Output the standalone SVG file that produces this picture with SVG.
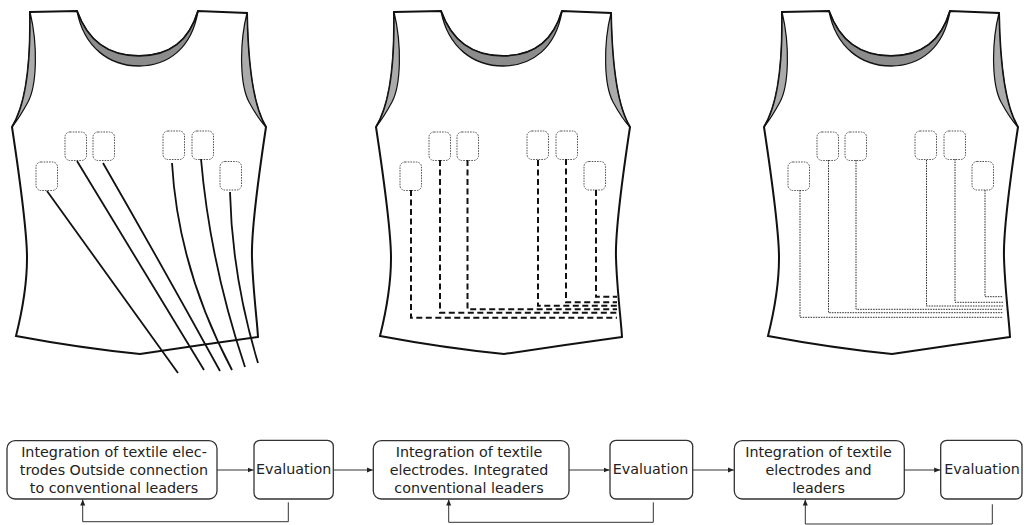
<svg xmlns="http://www.w3.org/2000/svg" xmlns:xlink="http://www.w3.org/1999/xlink" width="1024" height="525" viewBox="0 0 1024 525">
  <style>
    .outline { fill: #ffffff; stroke: #111111; stroke-width: 2; stroke-linejoin: miter; }
    .neckband { fill: #8c8c8c; stroke: #111111; stroke-width: 1.3; }
    .armband { fill: #ababab; stroke: #111111; stroke-width: 1.2; }
    .pad { fill: none; stroke: #555555; stroke-width: 1; stroke-dasharray: 1.6 1.1; }
    .wire-solid { fill: none; stroke: #111111; stroke-width: 1.8; }
    .wire-dash { fill: none; stroke: #111111; stroke-width: 2; stroke-dasharray: 6 3.5; }
    .wire-dot { fill: none; stroke: #333333; stroke-width: 1; stroke-dasharray: 1.6 1; }
    .box { fill: #ffffff; stroke: #333333; stroke-width: 1.3; }
    .label { font-family: "DejaVu Sans", "Liberation Sans", sans-serif; font-size: 14.3px; fill: #222222; text-anchor: middle; }
    .link { fill: none; stroke: #333333; stroke-width: 1; }
  </style>
  <defs>
    <marker id="head" markerUnits="userSpaceOnUse" markerWidth="7" markerHeight="6" refX="6" refY="3" orient="auto">
      <path d="M0,0.5 L6,3 L0,5.5 Z" fill="#222222"/>
    </marker>
    <!-- sleeveless vest with neck band, arm bands and six dotted electrode pads -->
    <g id="vest">
      <path class="outline" d="M30,12 L77,11 C88,42 110,56 139,56 C168,56 189,42 198,11 L247,13 C248,70 254,108 266,127 C258,180 251,230 252,258 C253,290 257,320 258,337 Q200,345 140,354 Q80,348 16,336 C20,320 27,290 27,258 C27,230 20,180 12,127 C24,108 31,70 30,12 Z"/>
      <path class="neckband" d="M77,11 C88,42 110,56 139,56 C168,56 189,42 198,11 C192,48 168,66 139,66 C110,66 84,48 77,11 Z"/>
      <path class="armband" d="M12,127 C24,108 31,70 30,12 C38,45 37,85 28,102 C22,113 16,122 12,127 Z"/>
      <path class="armband" d="M247,13 C248,70 254,108 266,127 C261,122 255,113 249,102 C240,85 239,45 247,13 Z"/>
      <rect class="pad" x="36" y="162" width="21.5" height="28.5" rx="5"/>
      <rect class="pad" x="65" y="132" width="21.5" height="28.5" rx="5"/>
      <rect class="pad" x="93" y="132" width="21.5" height="28.5" rx="5"/>
      <rect class="pad" x="163" y="131" width="21.5" height="28.5" rx="5"/>
      <rect class="pad" x="192" y="131" width="21.5" height="28.5" rx="5"/>
      <rect class="pad" x="220" y="161.5" width="21.5" height="28.5" rx="5"/>
    </g>
  </defs>

  <!-- vest 1: electrodes with leads routed outside the garment -->
  <g id="vest-outside-leads">
    <use xlink:href="#vest"/>
    <path class="wire-solid" d="M47,191 Q110,278 178,373"/>
    <path class="wire-solid" d="M77,161 Q138,262 204,370"/>
    <path class="wire-solid" d="M103,163 Q160,262 220,371"/>
    <path class="wire-solid" d="M172,163 Q178,268 232,370"/>
    <path class="wire-solid" d="M201,159 Q210,263 245,367"/>
    <path class="wire-solid" d="M230,192 Q232,277 258,363"/>
  </g>

  <!-- vest 2: integrated conventional leads (dashed) -->
  <g id="vest-integrated-leads">
    <use xlink:href="#vest" transform="translate(364,0)"/>
    <path class="wire-dash" d="M411,190 V317.7 H617"/>
    <path class="wire-dash" d="M440,160 V312.7 H617"/>
    <path class="wire-dash" d="M467.5,160 V309.3 H617"/>
    <path class="wire-dash" d="M538,160 V305.7 H617"/>
    <path class="wire-dash" d="M566,159 V302.3 H617"/>
    <path class="wire-dash" d="M596,190 V296.7 H617"/>
  </g>

  <!-- vest 3: textile leads (dotted) -->
  <g id="vest-textile-leads">
    <use xlink:href="#vest" transform="translate(752,0)"/>
    <path class="wire-dot" d="M800,190 V317.3 H1003"/>
    <path class="wire-dot" d="M828.5,160 V312.7 H1003"/>
    <path class="wire-dot" d="M856,160 V309.3 H1003"/>
    <path class="wire-dot" d="M926.5,160 V306 H1003"/>
    <path class="wire-dot" d="M955,159 V302.3 H1003"/>
    <path class="wire-dot" d="M985,190 V296.7 H1003"/>
  </g>

  <!-- process flow boxes -->
  <g id="step1">
    <rect class="box" x="7" y="440.7" width="210" height="58.3" rx="8"/>
    <text class="label" x="114" y="456.7">Integration of textile elec-</text>
    <text class="label" x="114" y="475">trodes Outside connection</text>
    <text class="label" x="114" y="493.3">to conventional leaders</text>
  </g>
  <g id="eval1">
    <rect class="box" x="254" y="440.3" width="79.3" height="58.7" rx="6"/>
    <text class="label" x="293.7" y="474">Evaluation</text>
  </g>
  <g id="step2">
    <rect class="box" x="373.3" y="440.7" width="195.7" height="58.3" rx="8"/>
    <text class="label" x="469" y="456.7">Integration of textile</text>
    <text class="label" x="469" y="475">electrodes. Integrated</text>
    <text class="label" x="469" y="493.3">conventional leaders</text>
  </g>
  <g id="eval2">
    <rect class="box" x="610" y="440.3" width="82.7" height="58.7" rx="6"/>
    <text class="label" x="650.5" y="474">Evaluation</text>
  </g>
  <g id="step3">
    <rect class="box" x="734.3" y="440.7" width="170" height="58.3" rx="8"/>
    <text class="label" x="818.5" y="456.7">Integration of textile</text>
    <text class="label" x="818.5" y="475">electrodes and</text>
    <text class="label" x="818.5" y="493">leaders</text>
  </g>
  <g id="eval3">
    <rect class="box" x="940.7" y="440.3" width="81.3" height="58.7" rx="6"/>
    <text class="label" x="982" y="474">Evaluation</text>
  </g>

  <!-- connectors -->
  <g id="connectors">
    <path class="link" d="M217,470 H253.5" marker-end="url(#head)"/>
    <path class="link" d="M333.3,470 H372.8" marker-end="url(#head)"/>
    <path class="link" d="M569,470 H609.5" marker-end="url(#head)"/>
    <path class="link" d="M692.7,470 H733.8" marker-end="url(#head)"/>
    <path class="link" d="M904.3,470 H940.2" marker-end="url(#head)"/>
    <path class="link" d="M288.3,502.3 V521.7 H82.7 V499.5" marker-end="url(#head)"/>
    <path class="link" d="M653.3,502.3 V522.3 H448.7 V499.5" marker-end="url(#head)"/>
    <path class="link" d="M992.3,504.3 V524 H805.3 V499.5" marker-end="url(#head)"/>
  </g>
</svg>
